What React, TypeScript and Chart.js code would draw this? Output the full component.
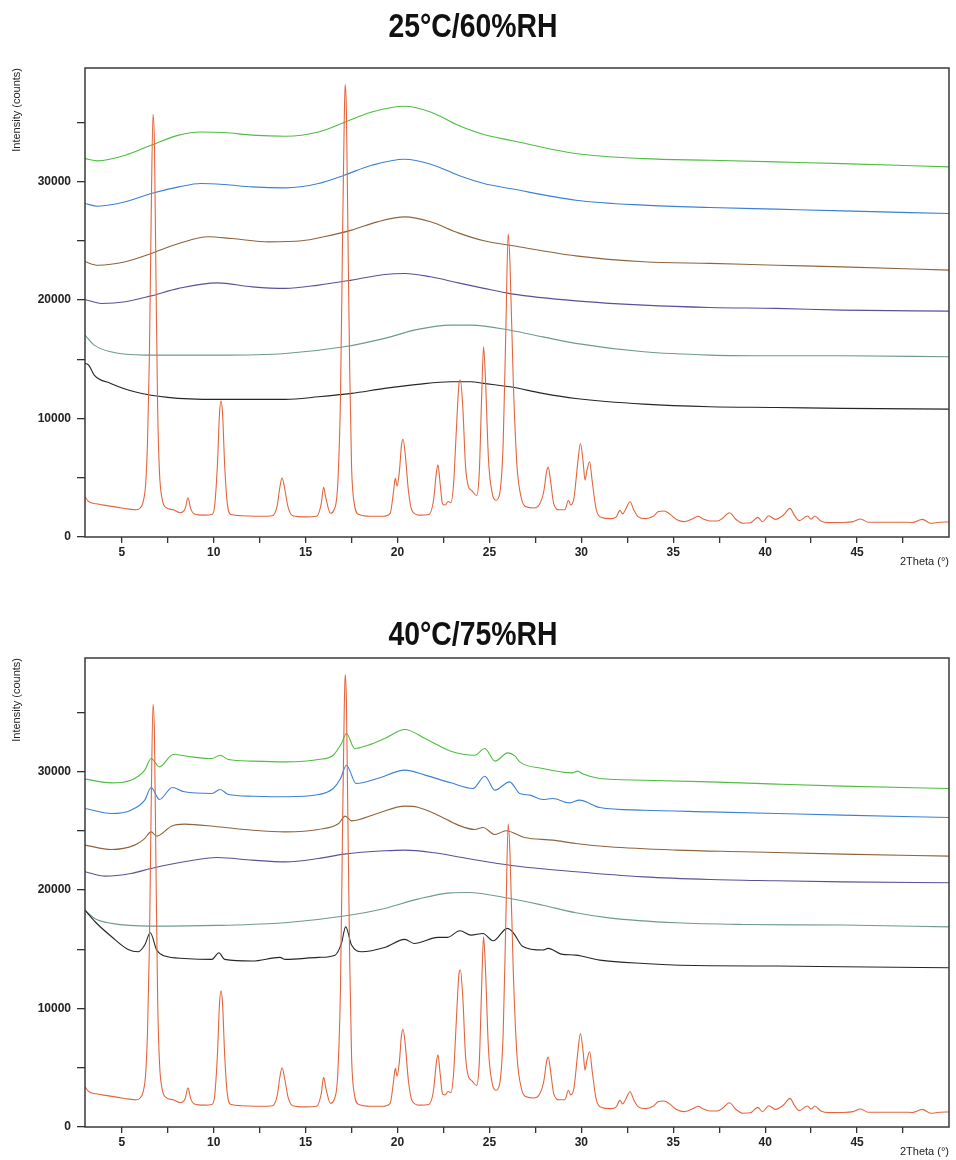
import React, { useEffect, useRef } from 'react';
import { Chart, registerables } from 'chart.js';

Chart.register(...registerables);

// ---------- tick values ----------
const xTickValues = [5, 7.5, 10, 12.5, 15, 17.5, 20, 22.5, 25, 27.5, 30, 32.5, 35, 37.5, 40, 42.5, 45, 47.5];
const yTickValues = [0, 5000, 10000, 15000, 20000, 25000, 30000, 35000];

// ---------- crystalline reference (red) ----------
const redPattern: number[][] = [
  [3.0, 3400], [3.2, 3000], [3.6, 2800], [4.2, 2650], [4.8, 2500], [5.4, 2350], [5.8, 2300], [6.0, 2450],
  [6.15, 2900], [6.3, 4500], [6.4, 8000], [6.5, 15000], [6.6, 27000], [6.7, 35700], [6.78, 33000],
  [6.86, 22000], [6.95, 11000], [7.05, 5500], [7.2, 3200], [7.4, 2500], [7.8, 2300], [8.2, 2050],
  [8.45, 2400], [8.6, 3300], [8.75, 2400], [8.95, 1950], [9.5, 1850], [9.9, 1900], [10.05, 2600],
  [10.2, 6000], [10.32, 10500], [10.4, 11500], [10.48, 10500], [10.6, 6000], [10.75, 2700], [10.95, 1900],
  [11.5, 1800], [12.5, 1750], [13.2, 1800], [13.45, 2600], [13.6, 4200], [13.72, 5000], [13.85, 4200],
  [14.05, 2500], [14.3, 1800], [15.0, 1700], [15.6, 1750], [15.85, 2800], [15.98, 4200], [16.1, 3300],
  [16.35, 2000], [16.55, 2300], [16.75, 4500], [16.9, 12000], [17.0, 24000], [17.1, 35000], [17.15, 38200],
  [17.22, 36000], [17.3, 26000], [17.4, 14000], [17.5, 6000], [17.65, 2800], [17.9, 1900], [18.5, 1750],
  [19.2, 1750], [19.6, 2000], [19.78, 3800], [19.88, 4950], [19.98, 4300], [20.1, 5500], [20.22, 7800],
  [20.3, 8250], [20.42, 7000], [20.6, 3800], [20.8, 2200], [21.2, 1850], [21.7, 1900], [21.95, 3000],
  [22.12, 5500], [22.2, 6100], [22.32, 4500], [22.45, 2800], [22.6, 2700], [22.75, 3000], [22.9, 2900],
  [23.05, 4500], [23.2, 9000], [23.35, 13000], [23.42, 13250], [23.55, 11000], [23.7, 6000], [23.85, 4300],
  [24.05, 3900], [24.3, 3500], [24.45, 5500], [24.58, 12000], [24.68, 16050], [24.78, 13500], [24.95, 6500],
  [25.15, 3700], [25.35, 3100], [25.55, 3600], [25.75, 8000], [25.9, 18000], [26.02, 25600], [26.12, 23000],
  [26.3, 13000], [26.5, 6000], [26.75, 3200], [27.0, 2550], [27.4, 2450], [27.7, 2700], [27.95, 3800],
  [28.12, 5600], [28.2, 5900], [28.32, 4800], [28.5, 2800], [28.8, 2300], [29.1, 2300], [29.3, 3100],
  [29.42, 2700], [29.6, 3300], [29.8, 6200], [29.95, 7900], [30.1, 6300], [30.2, 4800], [30.3, 5600],
  [30.45, 6350], [30.6, 4600], [30.8, 2400], [31.1, 1650], [31.6, 1550], [31.9, 1700], [32.1, 2250],
  [32.25, 1950], [32.4, 2300], [32.65, 2980], [32.85, 2300], [33.1, 1700], [33.5, 1550], [33.9, 1750],
  [34.2, 2150], [34.5, 2200], [34.8, 1950], [35.2, 1450], [35.6, 1300], [36.0, 1500], [36.35, 1750],
  [36.6, 1550], [37.0, 1350], [37.4, 1350], [37.7, 1600], [38.05, 2050], [38.4, 1500], [38.8, 1160],
  [39.2, 1200], [39.6, 1660], [39.85, 1290], [40.2, 1800], [40.55, 1490], [41.0, 1860], [41.35, 2420],
  [41.6, 1800], [41.85, 1380], [42.3, 1770], [42.5, 1500], [42.7, 1770], [43.0, 1380], [43.5, 1210],
  [44.2, 1220], [44.8, 1300], [45.2, 1520], [45.6, 1240], [46.5, 1250], [47.5, 1250], [48.0, 1230],
  [48.55, 1490], [49.0, 1160], [49.5, 1250], [50.0, 1270],
];

// ---------- 25 °C / 60 % RH ----------
const black25: number[][] = [
  [3, 14660], [3.2, 14520], [3.5, 13670], [4.4, 12970], [5.7, 12260], [7.5, 11790], [10.2, 11620], [13.9, 11620],
  [15.7, 11840], [17.5, 12130], [19.3, 12550], [21.1, 12890], [22.9, 13110], [24, 13110], [24.7, 12970],
  [26.2, 12660], [27.9, 12130], [29.7, 11700], [33.4, 11220], [37, 11000], [40.6, 10940], [44.2, 10860], [50, 10800],
];
const teal25: number[][] = [
  [3, 17050], [3.5, 16200], [4.4, 15640], [6.3, 15360], [10.2, 15360], [13.9, 15500], [17.1, 16060], [19.3, 16770],
  [21.1, 17530], [22.9, 17890], [24, 17890], [26.2, 17440], [27.9, 16900], [29.7, 16350], [33.4, 15640],
  [37, 15360], [40.6, 15300], [44.2, 15300], [50, 15220],
];
const purple25: number[][] = [
  [3, 20060], [3.9, 19720], [5.2, 19860], [6.6, 20360], [8.1, 20990], [10.2, 21460], [12.1, 21120], [13.9, 20990],
  [15.7, 21270], [17.5, 21690], [19.3, 22170], [20.4, 22250], [21.8, 21970], [23.3, 21460], [24.7, 20990],
  [26.2, 20530], [29.7, 19940], [33.4, 19580], [37, 19380], [40.6, 19300], [44.2, 19160], [50, 19070],
];
const brown25: number[][] = [
  [3, 23240], [3.7, 22950], [5.2, 23240], [6.6, 23940], [8.1, 24780], [9.7, 25350], [11, 25200], [13, 24920],
  [14.8, 25010], [16, 25350], [17.5, 25910], [18.9, 26610], [20.4, 27030], [21.8, 26610], [23.3, 25680],
  [24.7, 25010], [26.2, 24610], [29.7, 23740], [33.4, 23240], [37, 23100], [40.6, 22950], [44.2, 22810], [50, 22530],
];
const blue25: number[][] = [
  [3, 28160], [3.7, 27930], [5.2, 28300], [6.6, 29000], [8.1, 29560], [9.3, 29850], [10.6, 29760], [12.1, 29560],
  [13.9, 29480], [15.7, 29850], [17.1, 30550], [18.6, 31390], [20.4, 31900], [21.8, 31480], [23.3, 30550],
  [24.7, 29850], [26.2, 29400], [29.7, 28440], [33.4, 28020], [37, 27820], [40.6, 27680], [44.2, 27540], [50, 27310],
];
const green25: number[][] = [
  [3, 31950], [3.7, 31760], [5.2, 32240], [6.6, 33080], [8.1, 33930], [9.3, 34200], [10.6, 34150], [12.1, 33930],
  [13.9, 33840], [15.7, 34200], [17.1, 35000], [18.6, 35890], [20.4, 36370], [21.8, 35890], [23.3, 34770],
  [24.7, 33980], [26.2, 33480], [29.7, 32380], [33.4, 31950], [37, 31810], [40.6, 31670], [44.2, 31530], [50, 31250],
];

// ---------- 40 °C / 75 % RH ----------
const black40: number[][] = [
  [3, 18310], [3.55, 17330], [4.45, 16060], [5.35, 14990], [5.9, 14800], [6.25, 15360], [6.55, 16400], [6.9, 14940],
  [7.35, 14430], [8.4, 14230], [9.9, 14150], [10.28, 14710], [10.6, 14150], [12.1, 14010], [13.6, 14320],
  [13.9, 14150], [15.7, 14320], [16.6, 14510], [16.95, 15500], [17.18, 16900], [17.5, 15360], [18.05, 14800],
  [19.3, 15160], [20.4, 15840], [20.9, 15500], [22.2, 16010], [22.7, 16010], [23.4, 16570], [24.0, 16200],
  [24.65, 16340], [25.2, 15720], [25.97, 16770], [26.3, 16400], [26.8, 15270], [27.9, 14940], [28.2, 15080],
  [28.9, 14600], [29.7, 14510], [31, 14090], [33.4, 13810], [37, 13610], [40.6, 13590], [44.2, 13530], [50, 13440],
];
const teal40: number[][] = [
  [3, 18310], [3.55, 17580], [4.45, 17190], [6.6, 16960], [10.2, 17020], [13.9, 17240], [17.1, 17810], [19.3, 18450],
  [21.1, 19240], [22.9, 19770], [23.8, 19800], [26.2, 19270], [27.9, 18730], [29.7, 18090], [31.5, 17660],
  [35.2, 17240], [38.8, 17100], [44.2, 17050], [50, 16900],
];
const purple40: number[][] = [
  [3, 21550], [4.1, 21180], [5.5, 21410], [6.6, 21830], [8.4, 22390], [10.2, 22760], [12.1, 22530], [13.9, 22390],
  [15.7, 22670], [17.1, 23040], [19.3, 23320], [20.4, 23380], [22, 23150], [23.8, 22670], [26.2, 22080],
  [29.7, 21550], [33.4, 21120], [37, 20900], [40.6, 20790], [44.2, 20700], [50, 20620],
];
const brown40: number[][] = [
  [3, 23800], [4.45, 23430], [5.7, 23800], [6.2, 24280], [6.6, 24920], [6.9, 24560], [7.7, 25400], [8.4, 25570],
  [10.2, 25350], [12.1, 25060], [13.9, 24920], [15.7, 25120], [16.8, 25630], [17.15, 26250], [17.5, 25850],
  [18.9, 26470], [20.4, 27090], [21.1, 27000], [22.2, 26330], [23.3, 25490], [24.2, 25120], [24.65, 25290],
  [25.3, 24700], [25.9, 25010], [26.9, 24450], [28.45, 24220], [29.7, 23940], [31.5, 23660], [35.2, 23380],
  [38.8, 23240], [44.2, 23040], [50, 22870],
];
const blue40: number[][] = [
  [3, 26890], [4.45, 26470], [5.5, 26750], [6.25, 27600], [6.6, 28660], [7.05, 27650], [7.75, 28660], [8.4, 28300],
  [9.9, 28160], [10.35, 28500], [10.8, 28070], [12.1, 27930], [13.9, 27880], [15.7, 28070], [16.5, 28580],
  [16.9, 29420], [17.22, 30550], [17.75, 29000], [18.9, 29420], [20.4, 30130], [21.5, 29710], [22.9, 29060],
  [24.1, 28580], [24.75, 29620], [25.3, 28440], [26.1, 29140], [26.65, 28160], [27.2, 28020], [27.9, 27650],
  [28.45, 27740], [29.35, 27370], [29.9, 27600], [31, 26980], [33.4, 26750], [37, 26610], [40.6, 26470],
  [44.2, 26330], [50, 26130],
];
const green40: number[][] = [
  [3, 29370], [4.45, 29060], [5.5, 29280], [6.25, 30130], [6.6, 31110], [7.05, 30410], [7.8, 31450], [8.8, 31250],
  [9.9, 31110], [10.35, 31390], [10.8, 31030], [12.1, 30890], [13.9, 30830], [15.7, 31030], [16.5, 31390],
  [16.95, 32380], [17.22, 33220], [17.67, 31960], [18.4, 32240], [19.3, 32800], [20.4, 33560], [21.5, 32800],
  [22.9, 31730], [24.2, 31390], [24.75, 31960], [25.3, 30890], [26.0, 31590], [26.4, 31310], [26.65, 30830],
  [27.9, 30270], [29.5, 29900], [29.8, 30050], [30.1, 29800], [31, 29420], [33.4, 29280], [37, 29140],
  [40.6, 28950], [44.2, 28780], [50, 28580],
];

const COLORS = {
  red: '#e4653d',
  black: '#262626',
  teal: '#6e9a92',
  purple: '#5b4f97',
  brown: '#8c653d',
  blue: '#3c80d6',
  green: '#4fbd42',
};

const FONT = "'Liberation Sans', Arial, sans-serif";

const framePlugin = {
  id: 'frame',
  afterDraw(chart: any) {
    const { ctx, chartArea } = chart;
    ctx.save();
    ctx.strokeStyle = '#3a3a3a';
    ctx.lineWidth = 1.5;
    ctx.strokeRect(chartArea.left, chartArea.top, chartArea.right - chartArea.left, chartArea.bottom - chartArea.top);
    ctx.restore();
  },
};

// condensed bold heading (the original uses a narrow bold face)
const headingPlugin = {
  id: 'heading',
  afterDraw(chart: any, _args: any, opts: any) {
    const { ctx } = chart;
    ctx.save();
    ctx.fillStyle = '#111';
    ctx.font = `bold 33px ${FONT}`;
    ctx.textAlign = 'center';
    ctx.textBaseline = 'middle';
    ctx.translate(opts.x, opts.y);
    ctx.scale(0.86, 1);
    ctx.fillText(opts.text, 0, 0);
    ctx.restore();
  },
};

type Series = { data: number[][]; color: string };

function Panel({ title, series, top, titleY }: { title: string; series: Series[]; top: number; titleY: number }) {
  const ref = useRef<HTMLCanvasElement>(null);
  useEffect(() => {
    if (!ref.current) return;
    const chart = new Chart(ref.current, {
      type: 'line',
      data: {
        datasets: series.map((s) => ({
          data: s.data.map(([x, y]) => ({ x, y })),
          borderColor: s.color,
          borderWidth: 1.1,
          pointRadius: 0,
          fill: false,
          cubicInterpolationMode: 'monotone',
        })),
      },
      options: {
        animation: false,
        responsive: false,
        maintainAspectRatio: false,
        layout: { padding: { left: 0, right: 7, top: 68, bottom: 0 } },
        plugins: {
          legend: { display: false },
          tooltip: { enabled: false },
          title: { display: false },
          heading: { text: title, x: 473, y: titleY },
        },
        scales: {
          x: {
            type: 'linear',
            min: 3,
            max: 50,
            afterBuildTicks: (scale: any) => {
              scale.ticks = xTickValues.map((v) => ({ value: v }));
            },
            afterFit: (scale: any) => {
              scale.height = 33;
            },
            ticks: {
              autoSkip: false,
              maxRotation: 0,
              padding: 2,
              color: '#222',
              font: { family: FONT, size: 12, weight: 'bold' },
              callback: (v: any) => (Number(v) % 5 === 0 ? String(v) : ''),
            },
            grid: { drawOnChartArea: false, drawTicks: true, tickLength: 6, color: '#333', lineWidth: 1.3 },
            border: { display: false },
            title: {
              display: true,
              text: '2Theta (°)',
              align: 'end',
              color: '#222',
              font: { family: FONT, size: 11 },
              padding: { top: 0, bottom: 1.7 },
            },
          },
          y: {
            type: 'linear',
            min: 0,
            max: 39600,
            afterBuildTicks: (scale: any) => {
              scale.ticks = yTickValues.map((v) => ({ value: v }));
            },
            afterFit: (scale: any) => {
              scale.width = 85;
            },
            ticks: {
              autoSkip: false,
              padding: 6,
              color: '#222',
              font: { family: FONT, size: 12, weight: 'bold' },
              callback: (v: any) => (Number(v) % 10000 === 0 ? String(v) : ''),
            },
            grid: { drawOnChartArea: false, drawTicks: true, tickLength: 8, color: '#333', lineWidth: 1.3 },
            border: { display: false },
            title: {
              display: true,
              text: 'Intensity (counts)',
              align: 'end',
              color: '#222',
              font: { family: FONT, size: 11 },
              padding: { top: 10, bottom: 0 },
            },
          },
        },
      } as any,
      plugins: [framePlugin, headingPlugin],
    });
    return () => chart.destroy();
  }, [title, series, titleY]);
  return (
    <canvas
      ref={ref}
      width={956}
      height={570}
      style={{ position: 'absolute', left: 0, top, width: 956, height: 570, display: 'block' }}
    />
  );
}

const series25: Series[] = [
  { data: redPattern, color: COLORS.red },
  { data: black25, color: COLORS.black },
  { data: teal25, color: COLORS.teal },
  { data: purple25, color: COLORS.purple },
  { data: brown25, color: COLORS.brown },
  { data: blue25, color: COLORS.blue },
  { data: green25, color: COLORS.green },
];

const series40: Series[] = [
  { data: redPattern, color: COLORS.red },
  { data: black40, color: COLORS.black },
  { data: teal40, color: COLORS.teal },
  { data: purple40, color: COLORS.purple },
  { data: brown40, color: COLORS.brown },
  { data: blue40, color: COLORS.blue },
  { data: green40, color: COLORS.green },
];

export default function App() {
  return (
    <div style={{ position: 'absolute', left: 0, top: 0, width: 956, height: 1160, overflow: 'hidden', background: '#fff' }}>
      <Panel title="25°C/60%RH" series={series25} top={0} titleY={28} />
      <Panel title="40°C/75%RH" series={series40} top={590} titleY={46} />
    </div>
  );
}
